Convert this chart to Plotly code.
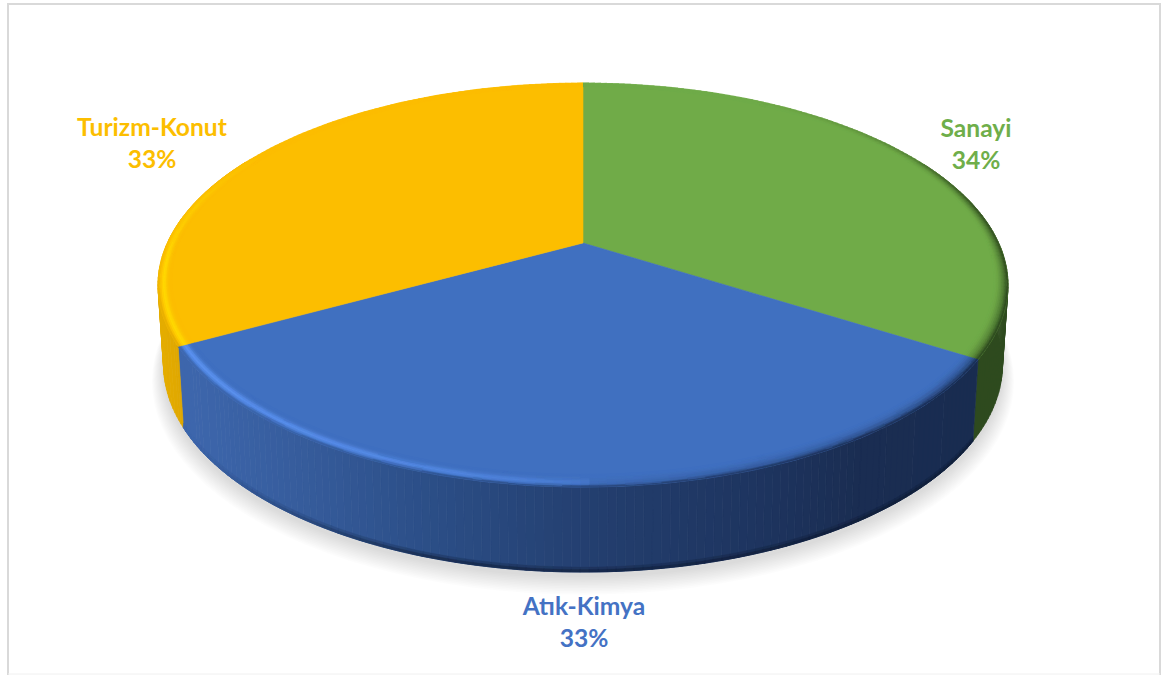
import math
import plotly.graph_objects as go

categories = ["Sanayi", "Atık-Kimya", "Turizm-Konut"]
values = [34, 33, 33]
top_colors = ["#70AB48", "#4070C0", "#FCBE00"]
light_colors = ["#7DBE50", "#5C93F2", "#FFD800"]
label_colors = ["#6FAE4A", "#4472C4", "#FCBE00"]
label_positions = [(976, 147), (584, 625), (152, 146)]

# Disc geometry, in page pixels: a circle seen in perspective
CX, CY = 583.0, 243.0
AX, BY, K = 415.7, 193.3, -0.208
WALL_SHRINK = 0.987
STEP_DEG = 1.0


def project(theta, r=1.0):
    """Circle angle (degrees clockwise from the top) to a point on the top face."""
    t = math.radians(theta)
    px, py = r * math.sin(t), -r * math.cos(t)
    d = 1 + K * py
    return CX + AX * px / d, CY + BY * py / d


def project_bottom(theta, grow=0.0, drop=0.0):
    x, y = project(theta)
    py = -math.cos(math.radians(theta))
    depth = 78 + 7 * py
    bx = CX + (x - CX) * (WALL_SHRINK + grow)
    by = y + depth + drop + (y - 285) * grow
    return bx, by


def hex_rgb(c):
    return tuple(int(c[i:i + 2], 16) for i in (1, 3, 5))


def mix(a, b, f):
    f = max(0.0, min(1.0, f))
    return tuple(a[i] + (b[i] - a[i]) * f for i in range(3))


def to_hex(c, q=1):
    return "#%02x%02x%02x" % tuple(min(255, int(round(v / q) * q)) for v in c)


def clamp(v):
    return max(0.0, min(1.0, v))


BLUE_WALL = [(190, "#3D66AC"), (300, "#365C9C"), (420, "#2C4F88"), (600, "#233E6E"),
             (750, "#1E3560"), (860, "#1A2D52"), (975, "#192C50")]


def wall_color(slice_idx, x):
    if slice_idx == 0:
        return hex_rgb("#2E4A1E")
    if slice_idx == 2:
        return mix(hex_rgb("#E4AC00"), hex_rgb("#DCA400"), (x - 160) / 30)
    for (x0, c0), (x1, c1) in zip(BLUE_WALL, BLUE_WALL[1:]):
        if x <= x1:
            return mix(hex_rgb(c0), hex_rgb(c1), (x - x0) / (x1 - x0))
    return hex_rgb(BLUE_WALL[-1][1])


# Slice boundaries follow directly from the values
total = sum(values)
edges = [0.0]
for v in values:
    edges.append(edges[-1] + 360.0 * v / total)

fig = go.Figure()

# Soft ground shadow: stacked translucent outlines of the disc's foot
for i in range(12):
    grow = 0.001 + 0.0024 * i
    xs, ys = [], []
    for deg in range(0, 361, 3):
        bx, by = project_bottom(deg, grow=grow, drop=5 + 1.1 * i)
        xs.append(bx)
        ys.append(by)
    fig.add_trace(go.Scatter(x=xs, y=ys, mode="lines", fill="toself",
                             fillcolor="rgba(0,0,0,0.012)", line=dict(width=0),
                             hoverinfo="skip", showlegend=False))

# Quads sharing a colour are merged into one trace to keep the figure light
buckets = {}


def add_quad(pts, color):
    xs, ys = buckets.setdefault(color, ([], []))
    xs.extend([p[0] for p in pts] + [pts[0][0], None])
    ys.extend([p[1] for p in pts] + [pts[0][1], None])


def flush(stroke=0.7):
    for color, (xs, ys) in buckets.items():
        fig.add_trace(go.Scatter(x=xs, y=ys, mode="lines", fill="toself", fillcolor=color,
                                 line=dict(color=color, width=stroke),
                                 hoverinfo="skip", showlegend=False))
    buckets.clear()


def arc_steps(a, b):
    n = max(1, int(math.ceil((b - a) / STEP_DEG)))
    return [a + (b - a) * j / n for j in range(n + 1)]


def visible_wall(idx):
    angles = arc_steps(edges[idx], edges[idx + 1])
    for a0, a1 in zip(angles, angles[1:]):
        if -math.cos(math.radians((a0 + a1) / 2)) >= -0.45:
            yield a0, a1


# Side wall
for idx in range(3):
    for a0, a1 in visible_wall(idx):
        t0, t1, b0, b1 = project(a0), project(a1), project_bottom(a0), project_bottom(a1)
        add_quad([t0, t1, b1, b0], to_hex(wall_color(idx, (t0[0] + t1[0]) / 2)))
flush()

# Darker lip along the foot of the blue wall, deepening in two steps
for lift, amount in ((5, 0.25), (2.5, 0.55)):
    for a0, a1 in visible_wall(1):
        b0, b1 = project_bottom(a0), project_bottom(a1)
        col = wall_color(1, (b0[0] + b1[0]) / 2)
        strength = amount * clamp((b0[0] - 190) / 250)
        lip = mix(col, (12, 22, 44), strength)
        add_quad([(b0[0], b0[1] - lift), (b1[0], b1[1] - lift), b1, b0], to_hex(lip, 3))
    flush(0.4)

# Flat top faces
for idx, name in enumerate(categories):
    angles = arc_steps(edges[idx], edges[idx + 1])
    pts = [project(a) for a in angles]
    fig.add_trace(go.Scatter(
        x=[CX] + [p[0] for p in pts] + [CX],
        y=[CY] + [p[1] for p in pts] + [CY],
        mode="lines", fill="toself", fillcolor=top_colors[idx],
        line=dict(color=top_colors[idx], width=0.6),
        name=name, text=f"{name}: {values[idx]}%", hoverinfo="text", showlegend=False))

# Bevelled rim: highlight towards the left, shade towards the right
RINGS = 9
for idx in range(3):
    base = hex_rgb(top_colors[idx])
    hi = hex_rgb(light_colors[idx])
    angles = arc_steps(edges[idx], edges[idx + 1])
    for a0, a1 in zip(angles, angles[1:]):
        mid = (a0 + a1) / 2
        rad = math.radians(mid)
        s, py = math.sin(rad), -math.cos(rad)
        width = 0.03 + 0.012 * max(0.0, py)
        strength_hi = (clamp((-s + 0.02) / 1.02) ** 0.4) * clamp((py + 0.5) / 0.6)
        strength_dk = (max(0.0, s) ** 0.5) * clamp((py + 0.9) / 0.7)
        front = clamp(py / 0.3)
        x_mid = project(mid)[0]
        wall = wall_color(idx, x_mid)
        for ring in range(RINGS):
            t = (ring + 0.5) / RINGS
            r0, r1 = 1 - width * (1 - ring / RINGS), 1 - width * (1 - (ring + 1) / RINGS)
            col = mix(base, hi, strength_hi * math.exp(-((t - 0.6) / 0.2) ** 2))
            col = mix(col, wall, strength_dk * t * t)
            col = mix(col, wall, front * clamp((t - 0.8) / 0.2))
            add_quad([project(a0, r0), project(a1, r0), project(a1, r1), project(a0, r1)], to_hex(col, 3))
flush(0.5)

# Slice labels computed from the values
fig.add_trace(go.Scatter(
    x=[p[0] for p in label_positions],
    y=[p[1] for p in label_positions],
    mode="text",
    text=[f"{c}<br>{round(100 * v / total)}%" for c, v in zip(categories, values)],
    textposition="middle center",
    textfont=dict(family="Lato", size=24.6, color=label_colors, weight="bold"),
    hoverinfo="skip", showlegend=False))

fig.update_layout(
    width=1165, height=675, autosize=False,
    margin=dict(l=0, r=0, t=0, b=0),
    paper_bgcolor="white", plot_bgcolor="white", showlegend=False,
    xaxis=dict(range=[0, 1165], visible=False, fixedrange=True),
    yaxis=dict(range=[675, 0], visible=False, fixedrange=True),
    shapes=[
        dict(type="path", path="M 8 675 L 8 4 L 1160 4 L 1160 675", xref="x", yref="y",
             line=dict(color="#D9D9D9", width=2), layer="below"),
        dict(type="line", xref="x", yref="y", x0=8, y0=674, x1=1160, y1=674,
             line=dict(color="#F0F0F0", width=1), layer="below"),
    ],
)

fig.write_html("out.html", config={"displayModeBar": False})
